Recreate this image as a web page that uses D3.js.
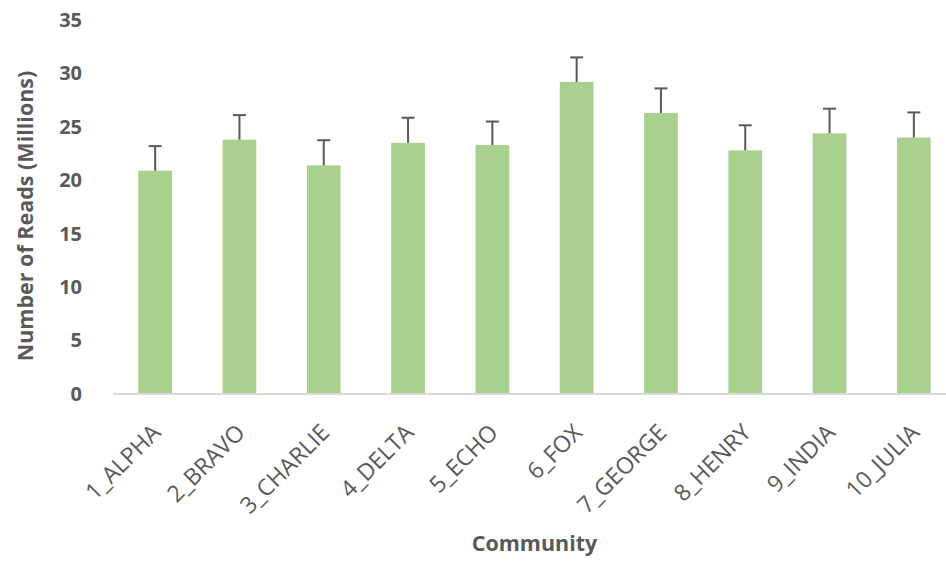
<!DOCTYPE html>
<html>
<head>
<meta charset="utf-8">
<script src="https://cdn.jsdelivr.net/npm/d3@7"></script>
<style>
  html, body { margin: 0; padding: 0; background: #fff; }
  svg { display: block; font-family: "Open Sans", "Noto Sans", sans-serif; }
</style>
</head>
<body>
<svg id="chart" width="946" height="561"></svg>
<script>
// Reads per community (millions) with error-bar extent
const communities = ["1_ALPHA", "2_BRAVO", "3_CHARLIE", "4_DELTA", "5_ECHO",
                     "6_FOX", "7_GEORGE", "8_HENRY", "9_INDIA", "10_JULIA"];
const reads = [20.9, 23.8, 21.4, 23.5, 23.3, 29.2, 26.3, 22.8, 24.4, 24.0];
const readsError = [2.3, 2.3, 2.35, 2.35, 2.2, 2.3, 2.3, 2.35, 2.3, 2.35];
const yTicks = [0, 5, 10, 15, 20, 25, 30, 35];

const svg = d3.select("#chart");
const margin = { left: 113, right: -10, top: 20, bottom: 167 };
const width = 946, height = 561;

const x = d3.scaleBand()
  .domain(communities)
  .range([margin.left, width - margin.right])
  .paddingInner(0.6)
  .paddingOuter(0.3);

const y = d3.scaleLinear()
  .domain([0, 35])
  .range([height - margin.bottom, margin.top]);

const textColor = "#595959";

// Bars
svg.append("g")
  .selectAll("rect")
  .data(communities)
  .join("rect")
  .attr("x", d => x(d))
  .attr("y", (d, i) => y(reads[i]))
  .attr("width", x.bandwidth())
  .attr("height", (d, i) => y(0) - y(reads[i]))
  .attr("fill", "#A9D18E");

// Error bars (positive direction only)
const err = svg.append("g").attr("stroke", "#595959").attr("stroke-width", 2);
communities.forEach((c, i) => {
  const cx = x(c) + x.bandwidth() / 2;
  err.append("line")
    .attr("x1", cx).attr("x2", cx)
    .attr("y1", y(reads[i])).attr("y2", y(reads[i] + readsError[i]));
  err.append("line")
    .attr("x1", cx - 6.5).attr("x2", cx + 6.5)
    .attr("y1", y(reads[i] + readsError[i])).attr("y2", y(reads[i] + readsError[i]));
});

// Category axis line
svg.append("line")
  .attr("x1", margin.left).attr("x2", width - margin.right)
  .attr("y1", y(0)).attr("y2", y(0))
  .attr("stroke", "#D9D9D9").attr("stroke-width", 2);

// Value axis labels
const yAxis = d3.axisLeft(y).tickValues(yTicks).tickSize(0).tickPadding(0);
const yg = svg.append("g")
  .attr("transform", `translate(${margin.left - 31},0)`)
  .call(yAxis);
yg.select(".domain").remove();
yg.selectAll("text")
  .attr("fill", textColor)
  .attr("font-size", 20)
  .attr("font-weight", "bold")
  .attr("font-family", "'Open Sans', sans-serif");

// Category labels, rotated
const xAxis = d3.axisBottom(x).tickSize(0).tickPadding(0);
const xg = svg.append("g")
  .attr("transform", `translate(0,${y(0)})`)
  .call(xAxis);
xg.select(".domain").remove();
xg.selectAll("text")
  .attr("fill", textColor)
  .attr("font-size", 23)
  .attr("font-family", "'Open Sans', sans-serif")
  .attr("text-anchor", "end")
  .attr("dy", null)
  .attr("y", 0)
  .attr("transform", "translate(7,40) rotate(-45)");

// Axis titles
svg.append("text")
  .attr("transform", `translate(33,216) rotate(-90)`)
  .attr("text-anchor", "middle")
  .attr("fill", textColor)
  .attr("font-size", 21.5)
  .attr("font-weight", "bold")
  .text("Number of Reads (Millions)");

svg.append("text")
  .attr("x", (margin.left + width - margin.right) / 2)
  .attr("y", 551)
  .attr("text-anchor", "middle")
  .attr("fill", textColor)
  .attr("font-size", 21.5)
  .attr("font-weight", "bold")
  .text("Community");
</script>
</body>
</html>
